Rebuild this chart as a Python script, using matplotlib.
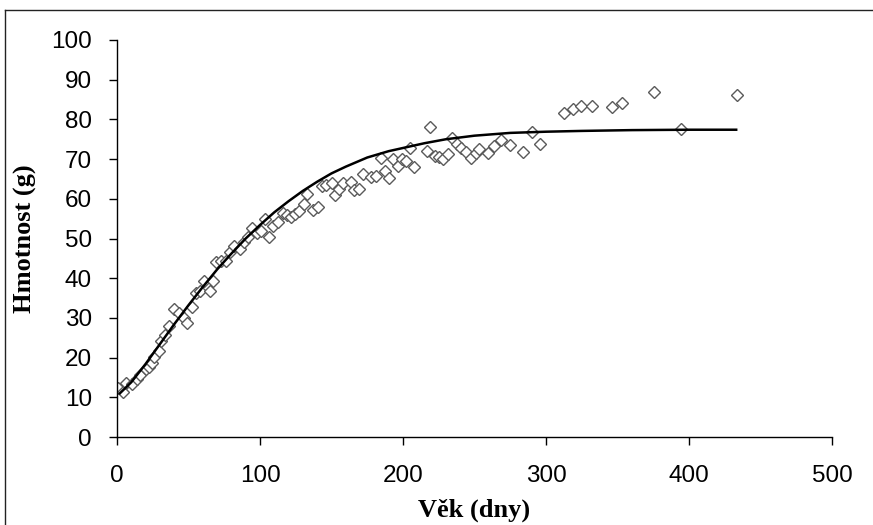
import matplotlib
matplotlib.use("Agg")
import matplotlib.pyplot as plt
from matplotlib.lines import Line2D

# observed data (age in days, weight in g)
age_days = [0.5, 4.0, 6.0, 10.8, 13.7, 16.3, 20.5, 22.6, 24.2, 26.0, 29.2, 30.5, 33.6, 36.6,
            40.2, 43.6, 46.9, 49.0, 52.3, 55.0, 58.0, 60.8, 64.7, 67.3, 69.5, 73.0, 76.5,
            79.2, 81.8, 86.0, 88.6, 91.8, 94.1, 97.8, 100.4, 103.5, 106.5, 109.3, 112.8,
            115.8, 118.6, 121.4, 124.5, 127.5, 130.8, 133.1, 136.9, 140.8, 143.2, 146.2,
            150.2, 152.4, 155.5, 158.3, 163.4, 165.7, 169.5, 172.3, 177.4, 181.1, 184.3,
            187.5, 190.4, 193.2, 196.3, 199.0, 202.0, 204.8, 207.8, 216.6, 218.9, 222.4,
            225.4, 228.2, 231.7, 234.1, 237.6, 240.6, 243.9, 247.4, 250.9, 253.4, 259.7,
            263.7, 268.6, 274.9, 283.7, 290.0, 295.8, 312.6, 318.7, 324.3, 332.0, 346.4,
            353.4, 375.6, 394.7, 433.8]
weight_g = [12.4, 11.3, 13.7, 13.4, 14.6, 15.7, 17.2, 17.6, 18.6, 20.2, 21.6, 24.3, 25.6, 28.0,
            32.2, 31.3, 30.0, 28.6, 32.8, 36.3, 36.7, 39.3, 36.8, 39.2, 44.1, 44.4, 44.3,
            46.5, 48.1, 47.4, 49.0, 50.4, 52.7, 51.5, 52.0, 54.8, 50.4, 53.1, 54.1,
            56.3, 55.8, 55.5, 56.1, 56.9, 58.8, 61.1, 57.3, 58.0, 63.2, 63.4,
            63.9, 60.9, 62.5, 63.9, 64.2, 62.2, 62.4, 66.2, 65.6, 65.8, 70.2,
            67.1, 65.2, 69.9, 68.2, 70.0, 69.5, 72.9, 67.9, 72.0, 78.2, 70.8,
            70.6, 69.9, 71.2, 75.4, 73.7, 72.9, 71.8, 70.2, 71.6, 72.6, 71.6,
            73.2, 74.8, 73.5, 71.8, 76.9, 73.7, 81.6, 82.7, 83.4, 83.4, 83.2,
            84.1, 86.9, 77.5, 86.2]

# fitted growth curve
curve_days = [2, 10, 20, 30, 40, 50, 60, 70, 80, 90, 100, 110, 120, 130, 140, 150, 160, 175,
              190, 200, 215, 230, 250, 275, 300, 325, 360, 400, 433]
curve_weight = [11.0, 13.8, 18.4, 23.4, 28.4, 33.2, 37.8, 42.2, 46.2, 50.0, 53.4, 56.6, 59.4,
                62.0, 64.3, 66.4, 68.1, 70.4, 72.0, 72.8, 74.0, 75.0, 75.9, 76.6, 76.9, 77.1,
                77.3, 77.4, 77.4]

x_ticks = [0, 100, 200, 300, 400, 500]
y_ticks = [0, 10, 20, 30, 40, 50, 60, 70, 80, 90, 100]

fig = plt.figure(figsize=(8.73, 5.25), dpi=100)
ax = fig.add_axes([117 / 873, 88 / 525, (832 - 117) / 873, (437 - 40) / 525])

ax.plot(age_days, weight_g, linestyle="none", marker="D", markersize=5.8,
        markerfacecolor="white", markeredgecolor="#5a5a5a", markeredgewidth=1.0, zorder=2)
ax.plot(curve_days, curve_weight, color="black", linewidth=1.8, zorder=3)

ax.set_xlim(0, 500)
ax.set_ylim(0, 100)
ax.set_xticks(x_ticks)
ax.set_yticks(y_ticks)
for s in ["top", "right"]:
    ax.spines[s].set_visible(False)
for s in ["left", "bottom"]:
    ax.spines[s].set_linewidth(1.0)
    ax.spines[s].set_color("black")
ax.tick_params(direction="out", length=6, width=1.0, color="black", labelsize=17.5)
ax.tick_params(axis="y", pad=12)
ax.tick_params(axis="x", pad=14)
for lab in ax.get_xticklabels() + ax.get_yticklabels():
    lab.set_fontfamily("Liberation Sans")

xl = ax.set_xlabel("Věk (dny)", fontfamily="Liberation Serif", fontweight="bold", fontsize=19)
xl.set_va("center")
ax.xaxis.set_label_coords(0.5, (437 - 510) / 397)
yl = ax.set_ylabel("Hmotnost (g)", fontfamily="Liberation Serif", fontweight="bold", fontsize=19)
yl.set_va("center")
ax.yaxis.set_label_coords((25 - 117) / 715, 0.5)

# chart border (top and left edges visible)
fig.add_artist(Line2D([5 / 873, 1.0], [1 - 10 / 525, 1 - 10 / 525], transform=fig.transFigure,
                      color="#222222", linewidth=1.0))
fig.add_artist(Line2D([5 / 873, 5 / 873], [0.0, 1 - 10 / 525], transform=fig.transFigure,
                      color="#222222", linewidth=1.0))

fig.savefig("out.png", dpi=100)
